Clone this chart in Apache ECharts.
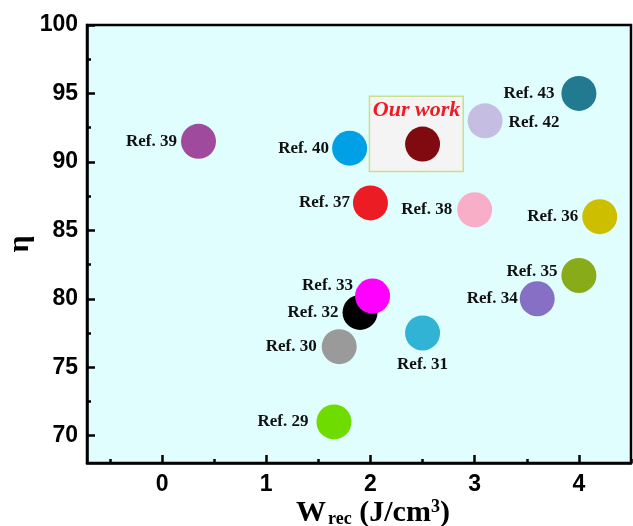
<!DOCTYPE html>
<html lang="en">
<head>
	<meta charset="UTF-8">
	<title>Wrec vs efficiency</title>
	<style>
		html, body { margin: 0; padding: 0; background: #fff; }
		#container { width: 633px; height: 526px; }
	</style>
</head>
<body>
	<div id="container"></div>
	<script src="https://cdn.jsdelivr.net/npm/echarts@6/dist/echarts.min.js"></script>
	<script>
		// data
		var refNames = ['Ref. 29', 'Ref. 30', 'Ref. 31', 'Ref. 32', 'Ref. 33', 'Ref. 34', 'Ref. 35', 'Ref. 36',
			'Ref. 37', 'Ref. 38', 'Ref. 39', 'Ref. 40', 'Ref. 42', 'Ref. 43'];
		var wrec = [1.65, 1.7, 2.5, 1.9, 2.02, 3.6, 4.0, 4.2, 2.0, 3.0, 0.35, 1.8, 3.1, 4.0];
		var eta = [71.0, 76.5, 77.5, 79.0, 80.2, 80.0, 81.7, 86.0, 87.0, 86.5, 91.5, 91.0, 93.0, 95.0];
		var ourWork = [2.5, 91.3];
		var ourBoxX = [1.99, 2.89];
		var ourBoxY = [89.3, 94.8];

		var xTicks = [0, 1, 2, 3, 4];
		var xMinorTicks = [-0.5, 0.5, 1.5, 2.5, 3.5, 4.5];
		var yTicks = [70, 75, 80, 85, 90, 95, 100];
		var yMinorTicks = [72.5, 77.5, 82.5, 87.5, 92.5, 97.5];

		var colors = ['#6fdc00', '#9a9a9a', '#31b3d6', '#000000', '#ff00ff', '#8570c6', '#88ab1a', '#cdbf00',
			'#ec1c24', '#f9aec8', '#a04a9e', '#00a0e6', '#c6bde3', '#217a8f'];

		// where each label sits next to its dot
		var labelPlace = {
			'Ref. 29': { position: 'left', distance: 8 },
			'Ref. 30': { position: 'left', distance: 5 },
			'Ref. 31': { position: 'bottom', distance: 6 },
			'Ref. 32': { position: 'left', distance: 4 },
			'Ref. 33': { position: 'left', distance: 2, offset: [0, -10] },
			'Ref. 34': { position: 'left', distance: 2 },
			'Ref. 35': { position: 'left', distance: 4, offset: [0, -4] },
			'Ref. 36': { position: 'left', distance: 4 },
			'Ref. 37': { position: 'left', distance: 3 },
			'Ref. 38': { position: 'left', distance: 5 },
			'Ref. 39': { position: 'left', distance: 4 },
			'Ref. 40': { position: 'left', distance: 3 },
			'Ref. 42': { position: 'right', distance: 6, offset: [0, 2] },
			'Ref. 43': { position: 'left', distance: 7 }
		};

		var refData = refNames.map(function(n, i) {
			var p = labelPlace[n];
			return {
				name: n,
				value: [wrec[i], eta[i]],
				itemStyle: { color: colors[i], opacity: 1 },
				label: {
					show: true,
					formatter: n,
					position: p.position,
					distance: p.distance,
					offset: p.offset || [0, 0]
				}
			};
		});

		var tickFont = {
			fontFamily: 'Liberation Sans, Arial, sans-serif',
			fontWeight: 'bold',
			fontSize: 23,
			color: '#000'
		};
		var serif = 'Liberation Serif, Times New Roman, serif';

		var myChart = echarts.init(document.getElementById('container'));

		var option = {
			animation: false,
			grid: {
				left: 87,
				top: 25,
				right: 2,
				bottom: 63,
				containLabel: false,
				outerBoundsMode: 'none',
				show: true,
				backgroundColor: '#e1fefe',
				borderColor: '#000',
				borderWidth: 2.5
			},
			xAxis: [{
				type: 'value',
				min: -0.72,
				max: 4.5,
				splitLine: { show: false },
				axisLine: { show: true, onZero: false, lineStyle: { color: '#000', width: 2.5 } },
				axisTick: { show: true, inside: true, length: 8, customValues: xTicks, lineStyle: { color: '#000', width: 2.5 } },
				axisLabel: Object.assign({ margin: 10, customValues: xTicks }, tickFont),
				name: '{w|W}{s|rec}{w| (J/cm}{p|3}{w|)}',
				nameLocation: 'middle',
				nameGap: 35,
				nameMoveOverlap: false,
				nameTextStyle: {
					padding: [0, 0, 0, 28],
					rich: {
						w: { fontFamily: serif, fontWeight: 'bold', fontSize: 30, color: '#000', verticalAlign: 'top', lineHeight: 30 },
						s: { fontFamily: serif, fontWeight: 'bold', fontSize: 18, color: '#000', verticalAlign: 'bottom', lineHeight: 18, padding: [28, 0, 0, 2] },
						p: { fontFamily: serif, fontWeight: 'bold', fontSize: 18, color: '#000', verticalAlign: 'top', lineHeight: 18 }
					}
				}
			}, {
				type: 'value',
				min: -0.72,
				max: 4.5,
				position: 'bottom',
				splitLine: { show: false },
				axisLine: { show: false, onZero: false },
				axisTick: { show: true, inside: true, length: 4, customValues: xMinorTicks, lineStyle: { color: '#000', width: 2.5 } },
				axisLabel: { show: false }
			}],
			yAxis: [{
				type: 'value',
				min: 68,
				max: 100,
				splitLine: { show: false },
				axisLine: { show: true, onZero: false, lineStyle: { color: '#000', width: 2.5 } },
				axisTick: { show: true, inside: true, length: 8, customValues: yTicks, lineStyle: { color: '#000', width: 2.5 } },
				axisLabel: Object.assign({ margin: 9, customValues: yTicks }, tickFont),
				name: 'η',
				nameLocation: 'middle',
				nameRotate: 90,
				nameGap: 52,
				nameMoveOverlap: false,
				nameTextStyle: {
					fontFamily: serif,
					fontWeight: 'bold',
					fontSize: 30,
					color: '#000'
				}
			}, {
				type: 'value',
				min: 68,
				max: 100,
				position: 'left',
				splitLine: { show: false },
				axisLine: { show: false, onZero: false },
				axisTick: { show: true, inside: true, length: 4, customValues: yMinorTicks, lineStyle: { color: '#000', width: 2.5 } },
				axisLabel: { show: false }
			}],
			series: [{
				name: 'Our work',
				type: 'scatter',
				xAxisIndex: 0,
				yAxisIndex: 0,
				symbolSize: 35,
				z: 3,
				itemStyle: { color: '#7f0a10', opacity: 1 },
				label: {
					show: true,
					formatter: 'Our work',
					position: 'top',
					distance: 5,
					offset: [-6, 0],
					color: '#ec1c24',
					fontFamily: serif,
					fontStyle: 'italic',
					fontWeight: 'bold',
					fontSize: 22
				},
				markArea: {
					silent: true,
					itemStyle: { color: '#f4f4f4', opacity: 1, borderColor: '#c8e08c', borderWidth: 1.5 },
					data: [[{ coord: [ourBoxX[0], ourBoxY[1]] }, { coord: [ourBoxX[1], ourBoxY[0]] }]]
				},
				data: [ourWork]
			}, {
				name: 'Refs',
				type: 'scatter',
				xAxisIndex: 0,
				yAxisIndex: 0,
				symbolSize: 35,
				z: 4,
				label: {
					color: '#111',
					fontFamily: serif,
					fontWeight: 'bold',
					fontSize: 17
				},
				data: refData
			}]
		};

		myChart.setOption(option);
	</script>
</body>
</html>
